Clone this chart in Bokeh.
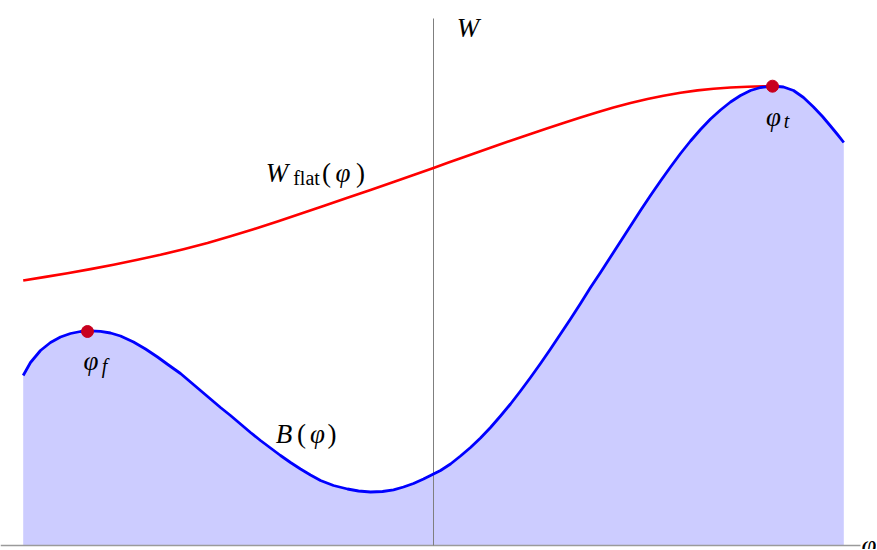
from bokeh.plotting import figure
from bokeh.models import Range1d
from bokeh.core.properties import value
from bokeh.embed import file_html
from bokeh.resources import INLINE

# ---- data ----
phi_B = [-4.103, -4.03, -3.93, -3.83, -3.73, -3.63, -3.53, -3.43, -3.33, -3.23, -3.13,
         -3.00, -2.88, -2.76, -2.65, -2.53, -2.43, -2.33, -2.23, -2.13, -2.03,
         -1.93, -1.83, -1.73, -1.63, -1.53, -1.43, -1.33, -1.23, -1.13, -1.00,
         -0.86, -0.75, -0.63, -0.51, -0.40, -0.30, -0.20, -0.10, 0.00, 0.07,
         0.17, 0.27, 0.37, 0.47, 0.57, 0.67, 0.77, 0.87, 0.97, 1.07,
         1.17, 1.27, 1.37, 1.47, 1.57, 1.67, 1.77, 1.87, 1.97, 2.07,
         2.17, 2.27, 2.37, 2.47, 2.57, 2.67, 2.77, 2.87, 2.97, 3.07,
         3.17, 3.27, 3.39, 3.50, 3.60, 3.70, 3.80, 3.89, 3.97, 4.04, 4.103]
B = [1.70, 1.83, 1.95, 2.03, 2.085, 2.12, 2.14, 2.147, 2.142, 2.125, 2.095,
     2.035, 1.965, 1.885, 1.805, 1.72, 1.635, 1.55, 1.465, 1.38, 1.30,
     1.215, 1.13, 1.05, 0.975, 0.90, 0.83, 0.765, 0.705, 0.65, 0.60,
     0.565, 0.545, 0.535, 0.54, 0.557, 0.585, 0.62, 0.665, 0.715, 0.75,
     0.815, 0.895, 0.98, 1.075, 1.18, 1.295, 1.415, 1.545, 1.68, 1.82,
     1.965, 2.115, 2.265, 2.42, 2.58, 2.73, 2.885, 3.04, 3.195, 3.35,
     3.50, 3.645, 3.785, 3.92, 4.045, 4.16, 4.265, 4.355, 4.435, 4.50,
     4.55, 4.58, 4.595, 4.585, 4.55, 4.48, 4.385, 4.29, 4.195, 4.11, 4.03]

phi_W = [-4.103, -3.88, -3.66, -3.43, -3.20, -2.96, -2.73, -2.50, -2.26, -2.03,
         -1.80, -1.56, -1.33, -1.10, -0.86, -0.63, -0.40, -0.20, 0.00, 0.15,
         0.30, 0.47, 0.64, 0.80, 0.97, 1.14, 1.30, 1.47, 1.64, 1.80,
         1.97, 2.14, 2.30, 2.47, 2.64, 2.80, 2.97, 3.14, 3.30, 3.39]
W_flat = [2.65, 2.686, 2.723, 2.764, 2.808, 2.857, 2.907, 2.963, 3.026, 3.092,
          3.162, 3.24, 3.317, 3.395, 3.477, 3.556, 3.636, 3.706, 3.776, 3.829,
          3.882, 3.942, 4.002, 4.058, 4.116, 4.172, 4.225, 4.28, 4.333, 4.38,
          4.425, 4.465, 4.497, 4.527, 4.551, 4.568, 4.58, 4.588, 4.592, 4.593]

pt_phi = [-3.46, 3.39]
pt_W = [2.14, 4.593]

axis_phi_extent = [-4.33, 4.27]
axis_W_extent = [0.0, 5.27]

# ---- figure: 100 px per unit on both axes ----
p = figure(width=876, height=549,
           x_range=Range1d(-4.33, 4.43), y_range=Range1d(-0.04, 5.45),
           output_backend="svg", toolbar_location=None,
           x_axis_type=None, y_axis_type=None, min_border=0)
p.xgrid.visible = False
p.ygrid.visible = False
p.outline_line_color = None
p.background_fill_color = "white"
p.border_fill_color = "white"

# filled region under B
p.varea(x=phi_B, y1=0, y2=B, fill_color="#ccccff", fill_alpha=1.0)

# axes lines
p.line(x=axis_phi_extent, y=[0, 0], line_color="#9a9a9a", line_width=1.5)
p.line(x=[0, 0], y=axis_W_extent, line_color="#7f7f7f", line_width=1)

# curves
p.line(x=phi_W, y=W_flat, line_color="#ff0000", line_width=2.6, line_join="round")
p.line(x=phi_B, y=B, line_color="#0000ff", line_width=2.8, line_join="round")
p.scatter(x=pt_phi, y=pt_W, size=12, fill_color="#c8001e", line_color="#c8001e")


def px(x):
    return (x - 433) / 100.0


def py(y):
    return (545 - y) / 100.0


def put(xc, yb, s, size=27, style="italic", align="center"):
    p.text(x=[px(xc)], y=[py(yb)], text=[s],
           text_font=value("Liberation Serif"), text_font_size=f"{size}px",
           text_font_style=style, text_align=align, text_baseline="alphabetic",
           text_color="#000000")


# W_flat(φ)
put(276.5, 172, "W")
put(306, 177.5, "flat", size=20, style="normal")
put(326, 172, "(", style="normal")
put(342.5, 172, "φ")
put(360, 172, ")", style="normal")

# B(φ)
put(283.5, 433, "B")
put(301, 433, "(", style="normal")
put(317, 433, "φ")
put(331.5, 433, ")", style="normal")

# φ_f
put(90.5, 360, "φ")
put(104, 365, "f", size=20)

# φ_t
put(773, 116, "φ")
put(786, 120, "t", size=20)

# axis labels
put(467.5, 27, "W")
put(861, 544, "φ", align="left")

open("out.html", "w").write(file_html(p, INLINE))
